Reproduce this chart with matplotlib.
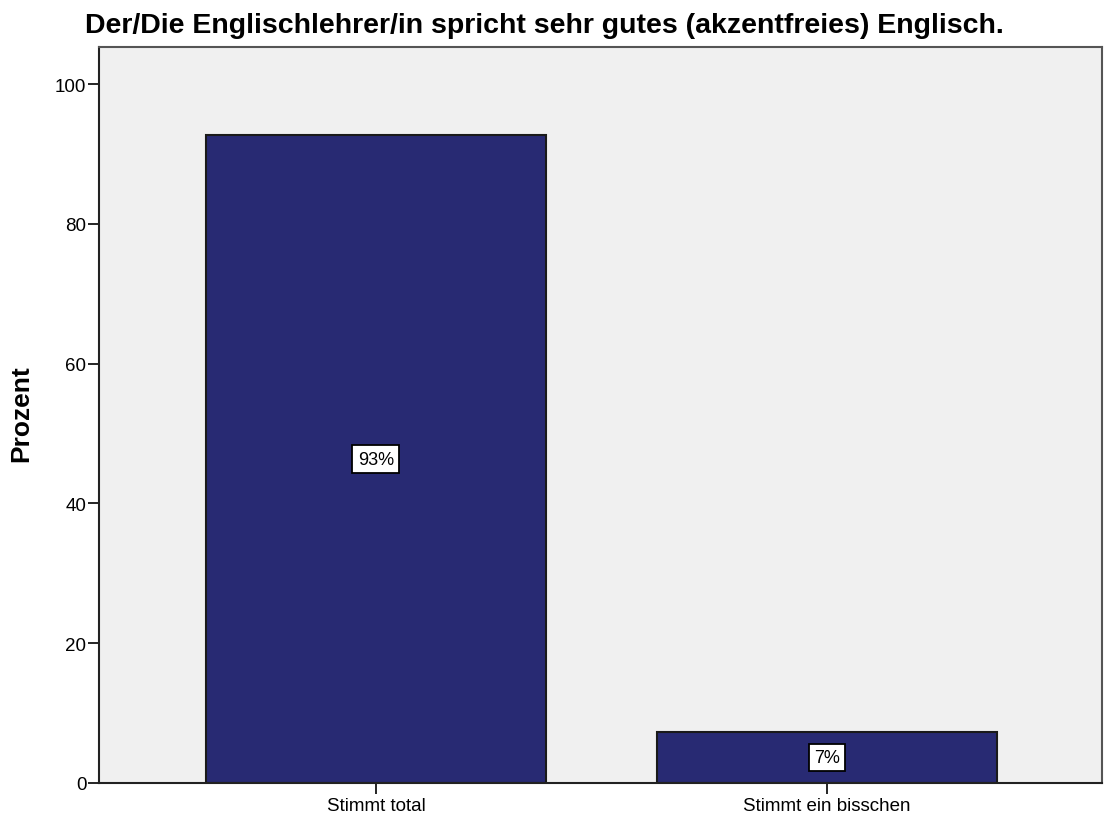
import matplotlib.pyplot as plt

plt.rcParams['font.family'] = ['Liberation Sans', 'DejaVu Sans']

categories = ["Stimmt total", "Stimmt ein bisschen"]
values = [92.7, 7.3]
labels = ["93%", "7%"]

fig = plt.figure(figsize=(11.04, 8.2), dpi=100)
ax = fig.add_axes([99 / 1104, 36 / 820, 1003 / 1104, 736 / 820])
ax.set_facecolor('#F0F0F0')

x = range(len(categories))
ax.bar(x, values, width=0.754, color='#282A73', edgecolor='#1a1a1a', linewidth=1.5, zorder=2)

for xi, v, lab in zip(x, values, labels):
    ax.text(xi, v / 2, lab, ha='center', va='center', fontsize=13, zorder=3,
            bbox=dict(boxstyle='square,pad=0.3', facecolor='white', edgecolor='black', linewidth=1.3))

ax.set_xlim(-0.614, 1.61)
ax.set_ylim(0, 105.3)
ax.set_xticks(list(x))
ax.set_xticklabels(categories, fontsize=13.5)
ax.set_yticks([0, 20, 40, 60, 80, 100])
ax.tick_params(axis='both', length=8, width=1.2, labelsize=13.5, pad=2)
ax.tick_params(axis='y', pad=1)

for s in ['left', 'bottom']:
    ax.spines[s].set_color('#222222')
    ax.spines[s].set_linewidth(1.5)
for s in ['top', 'right']:
    ax.spines[s].set_color('#555555')
    ax.spines[s].set_linewidth(1.5)

ax.set_ylabel('Prozent', fontsize=19, fontweight='bold')
ax.yaxis.set_label_coords(-0.066, 0.503)

fig.text(85 / 1104, 1 - 33 / 820, 'Der/Die Englischlehrer/in spricht sehr gutes (akzentfreies) Englisch.',
         fontsize=20.5, fontweight='bold', ha='left', va='baseline')

fig.savefig('out.png', dpi=100)
